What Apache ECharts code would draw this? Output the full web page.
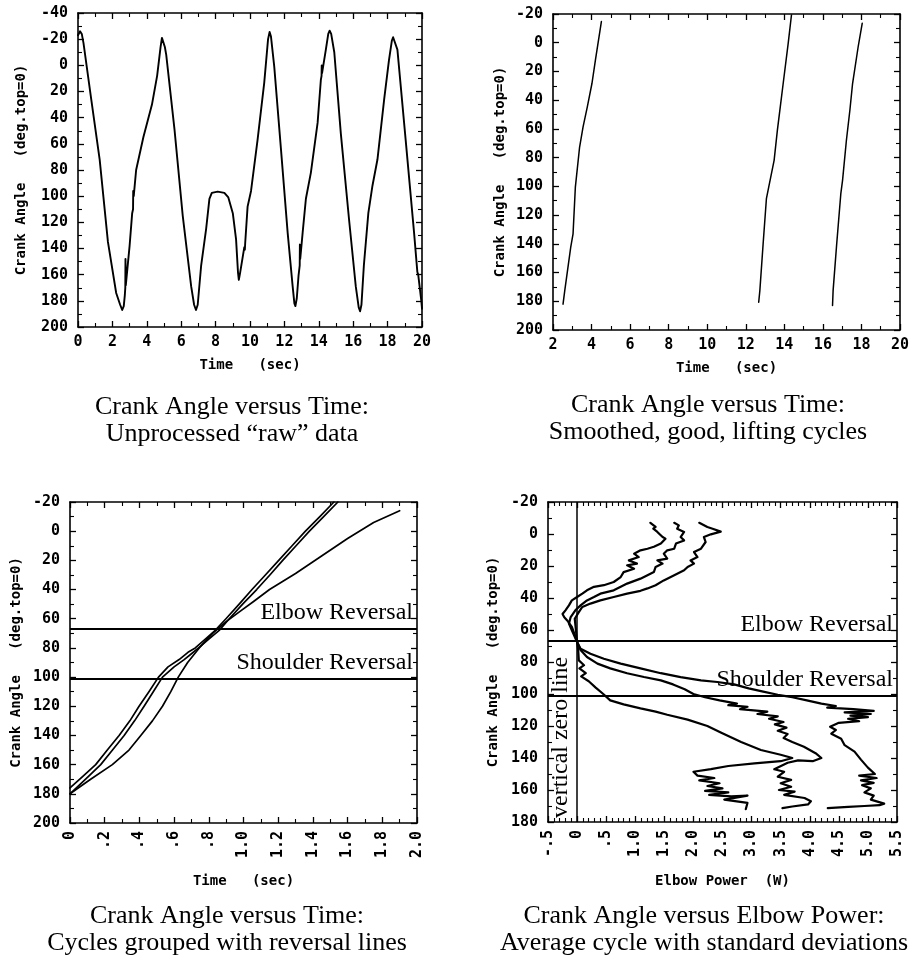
<!DOCTYPE html>
<html><head><meta charset="utf-8">
<script src="https://cdn.jsdelivr.net/npm/echarts@6/dist/echarts.min.js"></script>
<style>html,body{margin:0;padding:0;background:#fff}#c{width:914px;height:961px}</style>
</head><body><div id="c"></div>
<script>
// ---------- Panel 1: raw crank angle vs time ----------
const rawTime = [0.00,0.12,0.22,0.32,0.77,1.26,1.74,2.22,2.45,2.57,
  2.66,2.72,2.75,2.76,2.78,3.00,3.15,3.20,3.21,3.24,
  3.38,3.80,4.30,4.60,4.80,4.88,4.96,5.05,5.13,5.61,
  6.09,6.58,6.75,6.86,6.96,7.16,7.45,7.64,7.78,8.12,
  8.51,8.74,9.00,9.19,9.30,9.35,9.42,9.52,9.67,9.70,
  9.72,9.86,10.06,10.44,10.83,11.05,11.14,11.22,11.41,11.80,
  12.19,12.48,12.58,12.64,12.72,12.82,12.89,12.90,12.92,13.06,
  13.25,13.54,13.93,14.12,14.16,14.17,14.19,14.41,14.55,14.63,
  14.72,14.90,15.28,15.76,16.15,16.32,16.40,16.48,16.62,16.88,
  17.12,17.41,17.80,18.08,18.25,18.32,18.40,18.57,19.05,19.54,
  19.73,19.78,19.83,19.96,20.00];
const rawAngle = [-23,-26,-24,-17,26,72,135,174,183,187,
  184,176,170,148,168,138,113,110,96,100,
  80,55,30,8,-14,-21,-20,-14,-8,49,
  115,169,183,187,183,153,125,102,97.5,96.5,
  97.5,101,113,133,158,164,159,151,139,141,
  136,108,96,57,13,-20,-25.5,-22,1,64,
  128,169,182,184,178,161,153,137,148,128,
  102,82,44,11,8,0,6,-12,-24,-26.5,
  -24,-10,52,118,169,185,188,183,153,113,
  92,72,26,-4,-19,-21.5,-20,-12,57,128,
  158,160,160,180,186];

// ---------- Panel 2: smoothed good lifting cycles ----------
const cyc1Time  = [2.52,2.61,2.92,3.04,3.16,3.38,3.56,3.78,4.02,4.20,4.51];
const cyc1Angle = [182,172.6,142.3,133,100.5,72.6,58.6,44.7,28.4,12.1,-14.7];
const cyc2Time  = [12.67,12.73,12.90,13.07,13.19,13.47,13.64,13.94,14.20,14.37];
const cyc2Angle = [180.7,172.6,140,108.6,100.5,81.9,60.9,28.4,0.5,-19.3];
const cyc3Time  = [16.50,16.53,16.71,16.93,17.02,17.22,17.40,17.54,17.83,18.04];
const cyc3Angle = [183,172.6,141.2,105.1,95.8,67.9,47,28.4,2.8,-13.5];

// ---------- Panel 3: cycles grouped ----------
const grpATime  = [0,0.074,0.148,0.215,0.283,0.345,0.398,0.455,0.51,0.565,0.629,0.68,0.722,0.78,0.837,0.899,0.975,1.049,1.126,1.203,1.28,1.357,1.44,1.521];
const grpAAngle = [176,168,160,150,140,130,120,110,100,93,88,83,80,74,68,60,50,40,30,20,10,0,-10,-20];
const grpBTime  = [0,0.09,0.177,0.245,0.312,0.372,0.427,0.48,0.533,0.6,0.658,0.7,0.741,0.8,0.86,0.918,0.995,1.076,1.152,1.226,1.303,1.38,1.462,1.544];
const grpBAngle = [180,170,160,150,140,130,120,110,100,93,88,84,80,74,68,60,50,40,30,20,10,0,-10,-20];
const grpCTime  = [0,0.119,0.244,0.34,0.408,0.475,0.533,0.581,0.624,0.678,0.745,0.822,0.9,0.98,1.06,1.15,1.3,1.45,1.6,1.75,1.9];
const grpCAngle = [180,170,160,150,140,130,120,110,100,90,80,70,62,55,48,40,29,17,5,-6,-14];
const elbowReversal = 67;
const shoulderReversal = 101;

// ---------- Panel 4: crank angle vs elbow power ([power W, angle deg]) ----------
const powerLow = [[1.26,-7],[1.35,-4.4],[1.31,-3.3],[1.38,-1.3],[1.47,1.9],[1.52,2.9],[1.44,6],[1.32,8],[1.21,9.2],[1.09,10.2],
  [0.98,12.3],[1.06,14.4],[0.89,16.5],[1.03,18.5],[0.86,19.6],[0.98,21.7],[0.80,23.8],[0.75,26.9],[0.63,30],[0.46,32],
  [0.29,33],[0.17,35.2],[0.09,37.3],[0.0,39.4],[-0.09,41.5],[-0.14,44.6],[-0.2,47.7],[-0.25,50],[-0.22,52],[-0.17,54],
  [-0.09,58],[-0.03,64],[0,67.5],
  [0.02,73],[0.03,79],[0.12,82],[0.04,84],[0.15,87],[0.07,89],[0.2,92],[0.32,96],[0.45,100],[0.57,104],
  [0.8,106.5],[1.09,109],[1.35,111],[1.55,113],[1.9,116],[2.24,120],[2.47,124],[2.82,130],[3.16,135],[3.5,138],
  [3.7,140],[3.5,142],[3.05,143.4],[2.6,145],[2.3,147],[2.0,148.6],[2.07,151],[2.36,152.5],[2.1,154],[2.45,155.8],
  [2.24,157.5],[2.5,159],[2.2,160.5],[2.6,161.5],[2.27,163],[2.65,164],[2.93,163.5],[2.53,166],[2.93,168],[2.9,172]];
const powerMean = [[1.67,-7],[1.75,-5.4],[1.72,-3.3],[1.84,-1.3],[1.78,1.9],[1.84,4],[1.7,6],[1.67,9.2],[1.55,10.2],[1.49,12.3],
  [1.55,15.4],[1.38,16.5],[1.47,18.5],[1.35,20.6],[1.32,23.8],[1.21,25.8],[1.09,27.9],[0.86,31],[0.75,33],[0.63,35.2],
  [0.4,37.3],[0.29,39.4],[0.17,41.5],[0.06,44.6],[-0.03,47.7],[-0.11,51.9],[-0.14,56],[-0.09,60.2],[0,67.5],
  [0.06,72.5],[0.17,76.9],[0.35,81],[0.57,84],[0.86,87],[1.15,89.4],[1.44,91.5],[1.65,94],[1.85,97],[2.0,100],
  [2.2,102],[2.45,104],[2.75,106],[2.6,107],[2.93,108],[2.8,109.5],[3.27,111],[3.1,112.5],[3.45,114],[3.3,115.5],
  [3.55,117.5],[3.4,119],[3.6,121],[3.45,123],[3.62,125],[3.55,127.5],[3.7,130],[3.9,133],[4.1,137],[4.2,140],
  [4.05,142],[3.8,141.5],[3.62,143],[3.39,147],[3.56,148.6],[3.45,151.7],[3.68,153.7],[3.5,155.8],[3.68,158],[3.47,160],
  [3.74,161],[3.56,163],[3.91,165],[4.02,167],[3.97,169],[3.7,170.3],[3.53,171.3]];
const powerHigh = [[2.1,-7],[2.24,-4.4],[2.33,-3.3],[2.47,-1.5],[2.3,0.2],[2.18,1.9],[2.21,5],[2.13,9.2],[2.01,11.3],[2.07,14.4],
  [1.95,16.5],[2.01,18.5],[1.9,20.6],[1.84,22.7],[1.67,25.8],[1.49,29],[1.35,32],[1.21,34],[1.09,35.5],[0.86,37.3],
  [0.63,39.4],[0.4,41.5],[0.23,43.5],[0.09,45.6],[0.03,48.8],[-0.04,53],[-0.02,60],[0,67.5],
  [0.06,71.7],[0.23,74.8],[0.46,78],[0.75,81],[1.09,84],[1.44,87],[1.78,89.5],[2.13,91.5],[2.41,92.5],[2.7,94],
  [2.95,96.5],[3.2,98.5],[3.45,100.5],[3.7,102],[3.95,104],[4.2,106],[4.45,107.5],[4.3,108.5],[4.75,109.5],[5.1,110.5],
  [4.6,111.5],[5.05,112.5],[4.7,113.5],[5.0,114.5],[4.66,115.5],[4.85,117],[4.5,118],[4.35,120.5],[4.45,122.5],[4.37,124.8],
  [4.54,128],[4.6,132],[4.77,136],[4.88,141],[5.0,146],[5.12,150],[4.85,151],[5.15,152.5],[4.88,154],[5.1,155.5],
  [4.9,157],[5.05,159],[4.94,161.5],[5.1,163.5],[5.05,166],[5.28,168.5],[5.2,169.5],[4.94,170],[4.66,170.6],[4.31,171.3]];

// ---------- Tick values and labels ----------
const p1XTicks = [0,2,4,6,8,10,12,14,16,18,20];
const p1XLabels = ['0','2','4','6','8','10','12','14','16','18','20'];
const p1YTicks = [-40,-20,0,20,40,60,80,100,120,140,160,180,200];
const p1YLabels = ['-40','-20','0','20','40','60','80','100','120','140','160','180','200'];
const p2XTicks = [2,4,6,8,10,12,14,16,18,20];
const p2XLabels = ['2','4','6','8','10','12','14','16','18','20'];
const p2YTicks = [-20,0,20,40,60,80,100,120,140,160,180,200];
const p2YLabels = ['-20','0','20','40','60','80','100','120','140','160','180','200'];
const p3XTicks = [0,0.2,0.4,0.6,0.8,1.0,1.2,1.4,1.6,1.8,2.0];
const p3XLabels = ['0','.2','.4','.6','.8','1.0','1.2','1.4','1.6','1.8','2.0'];
const p3YTicks = [-20,0,20,40,60,80,100,120,140,160,180,200];
const p3YLabels = ['-20','0','20','40','60','80','100','120','140','160','180','200'];
const p4XTicks = [-0.5,0,0.5,1.0,1.5,2.0,2.5,3.0,3.5,4.0,4.5,5.0,5.5];
const p4XLabels = ['-.5','0','.5','1.0','1.5','2.0','2.5','3.0','3.5','4.0','4.5','5.0','5.5'];
const p4YTicks = [-20,0,20,40,60,80,100,120,140,160,180];
const p4YLabels = ['-20','0','20','40','60','80','100','120','140','160','180'];

const captions = [
  'Crank Angle versus Time:\nUnprocessed \u201craw\u201d data',
  'Crank Angle versus Time:\nSmoothed, good, lifting cycles',
  'Crank Angle versus Time:\nCycles grouped with reversal lines',
  'Crank Angle versus Elbow Power:\nAverage cycle with standard deviations'
];
const yTitle = 'Crank Angle   (deg.top=0)';
const timeTitle = 'Time   (sec)';
const powerTitle = 'Elbow Power  (W)';

// ---------- helpers ----------
const MONO = 'DejaVu Sans Mono';
const SERIF = 'Liberation Serif';
const zip = (a, b) => a.map((v, i) => [v, b[i]]);
const lab = (ticks, labels) => v => {
  for (let k = 0; k < ticks.length; k++) if (Math.abs(ticks[k] - v) < 1e-6) return labels[k];
  return '';
};
const tickFont = {fontFamily: MONO, fontWeight: 'bold', fontSize: 15, color: '#000'};
const nameFont = {fontFamily: MONO, fontWeight: 'bold', fontSize: 14, color: '#000'};

function baseAxis(gi, ticks, minor) {
  return {
    type: 'value', gridIndex: gi,
    min: ticks[0], max: ticks[ticks.length - 1],
    interval: +(ticks[1] - ticks[0]).toFixed(6),
    splitLine: {show: false}, minorSplitLine: {show: false},
    axisLine: {show: true, onZero: false, lineStyle: {color: '#000', width: 1.6}},
    axisTick: {show: true, inside: true, length: 6, lineStyle: {color: '#000', width: 1.3}},
    minorTick: {show: true, splitNumber: minor, length: 4, lineStyle: {color: '#000', width: 1.1}}
  };
}
function xPair(gi, ticks, labels, minor, name, gap, rotate) {
  return [
    Object.assign(baseAxis(gi, ticks, minor), {
      position: 'bottom', name: name, nameLocation: 'middle', nameGap: gap, nameTextStyle: nameFont,
      axisLabel: Object.assign({show: true, margin: 8, rotate: rotate, formatter: lab(ticks, labels)}, tickFont)
    }),
    Object.assign(baseAxis(gi, ticks, minor), {position: 'top', axisLabel: {show: false}})
  ];
}
function yPair(gi, ticks, labels, name, gap) {
  return [
    Object.assign(baseAxis(gi, ticks, 2), {
      position: 'left', inverse: true, name: name, nameLocation: 'middle', nameRotate: 90,
      nameGap: gap, nameTextStyle: nameFont,
      axisLabel: Object.assign({show: true, margin: 10, formatter: lab(ticks, labels)}, tickFont)
    }),
    Object.assign(baseAxis(gi, ticks, 2), {position: 'right', inverse: true, axisLabel: {show: false}})
  ];
}
function line(gi, data, width, extra) {
  return Object.assign({
    type: 'line', xAxisIndex: 2 * gi, yAxisIndex: 2 * gi, data: data,
    symbol: 'none', showSymbol: false, silent: true, animation: false, clip: true,
    lineStyle: {color: '#000', width: width, join: 'round', cap: 'round'},
    emphasis: {disabled: true}
  }, extra || {});
}
const markLabel = {show: true, formatter: '{b}', fontFamily: SERIF, fontSize: 24, color: '#000', distance: 4};
function reversalLines(extra) {
  const d = [{name: 'Elbow Reversal', yAxis: elbowReversal}, {name: 'Shoulder Reversal', yAxis: shoulderReversal}];
  return {
    symbol: ['none', 'none'], silent: true, animation: false,
    lineStyle: {color: '#000', width: 2, type: 'solid'},
    label: Object.assign({position: 'insideEndTop'}, markLabel),
    emphasis: {disabled: true},
    data: d.concat(extra || [])
  };
}

const grids = [
  {left: 78, top: 13, width: 344, height: 314},
  {left: 553, top: 14, width: 347, height: 316},
  {left: 70, top: 502, width: 347, height: 321},
  {left: 548, top: 502, width: 349, height: 320}
].map(g => Object.assign(g, {containLabel: false, outerBoundsMode: 'none'}));

const xAxes = [].concat(
  xPair(0, p1XTicks, p1XLabels, 2, timeTitle, 31, 0),
  xPair(1, p2XTicks, p2XLabels, 2, timeTitle, 31, 0),
  xPair(2, p3XTicks, p3XLabels, 2, timeTitle, 51, 90),
  xPair(3, p4XTicks, p4XLabels, 5, powerTitle, 52, 90)
);
const yAxes = [].concat(
  yPair(0, p1YTicks, p1YLabels, yTitle, 50),
  yPair(1, p2YTicks, p2YLabels, yTitle, 46),
  yPair(2, p3YTicks, p3YLabels, yTitle, 47),
  yPair(3, p4YTicks, p4YLabels, yTitle, 48)
);

const zeroLine = {
  symbol: ['none', 'none'], silent: true, animation: false,
  lineStyle: {color: '#000', width: 1.5, type: 'solid'},
  label: Object.assign({position: 'insideStartTop'}, markLabel),
  emphasis: {disabled: true},
  data: [[{coord: [0, p4YTicks[p4YTicks.length - 1]], name: 'vertical zero line'}, {coord: [0, p4YTicks[0]]}]]
};

const series = [
  line(0, zip(rawTime, rawAngle), 1.9),
  line(1, zip(cyc1Time, cyc1Angle), 1.5),
  line(1, zip(cyc2Time, cyc2Angle), 1.5),
  line(1, zip(cyc3Time, cyc3Angle), 1.5),
  line(2, zip(grpATime, grpAAngle), 1.7, {markLine: reversalLines()}),
  line(2, zip(grpBTime, grpBAngle), 1.7),
  line(2, zip(grpCTime, grpCAngle), 1.7),
  line(3, powerLow, 2.2, {markLine: reversalLines()}),
  line(3, powerMean, 2.2, {markLine: zeroLine}),
  line(3, powerHigh, 2.2)
];

const capStyle = {fontFamily: SERIF, fontSize: 26, fontWeight: 'normal', color: '#000', lineHeight: 27};
const titles = [
  {left: 232, top: 394}, {left: 708, top: 392}, {left: 227, top: 903}, {left: 704, top: 903}
].map((p, i) => Object.assign(p, {text: captions[i], textAlign: 'center', padding: 0, textStyle: capStyle}));

const chart = echarts.init(document.getElementById('c'), null, {renderer: 'canvas', width: 914, height: 961});
chart.setOption({
  animation: false,
  backgroundColor: '#fff',
  title: titles,
  grid: grids,
  xAxis: xAxes,
  yAxis: yAxes,
  series: series
});
</script></body></html>
